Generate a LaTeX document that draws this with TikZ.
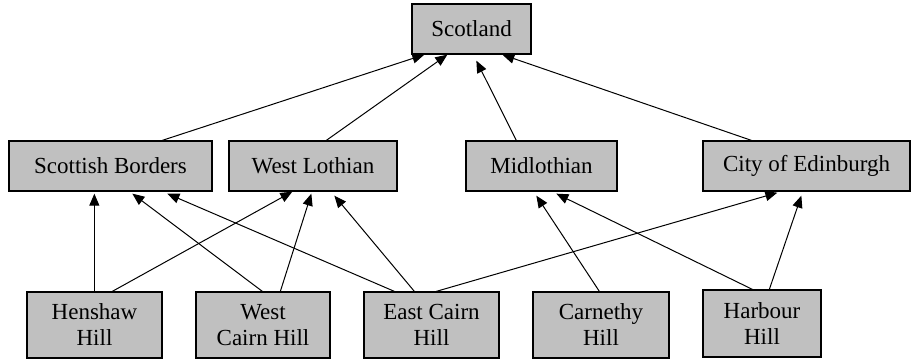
\documentclass[tikz,border=0pt]{standalone}
\usepackage{fontspec}
\setmainfont{Liberation Serif}
\usetikzlibrary{arrows.meta,calc}
\definecolor{boxgray}{HTML}{C0C0C0}
\tikzset{
  region/.style={draw=black, line width=1.3pt, fill=boxgray, inner sep=0pt,
    minimum height=50pt, align=center, font=\fontsize{23}{26}\selectfont},
  hill/.style={region, minimum height=66pt},
  arr/.style={draw=black, line width=1pt, -{Triangle[length=12pt,width=10pt]}},
}
\begin{document}
\begin{tikzpicture}[x=1pt,y=-1pt]
\useasboundingbox (0,0) rectangle (913,360);
% top
\node[region, minimum width=119pt] (sc) at (471.5,29) {Scotland};
% middle
\node[region, minimum width=203pt] (sb) at (110.5,166) {Scottish Borders};
\node[region, minimum width=168pt] (wl) at (313,166) {West Lothian};
\node[region, minimum width=151pt] (ml) at (541.5,166) {Midlothian};
\node[region, minimum width=207pt] (ce) at (806.5,166) {City of Edinburgh};
% bottom
\node[hill, minimum width=135pt] (hh) at (94.5,325) {Henshaw\\Hill};
\node[hill, minimum width=134pt] (wc) at (263,325) {West\\Cairn Hill};
\node[hill, minimum width=135pt] (ec) at (431.5,325) {East Cairn\\Hill};
\node[hill, minimum width=136pt] (ch) at (601,325) {Carnethy\\Hill};
\node[hill, minimum width=118pt, minimum height=67pt] (hb) at (762,323.5) {Harbour\\Hill};
% middle -> top
\draw[arr] ($(sb.north west)+(154,0)$) -- ($(sc.south west)+(13,0)$);
\draw[arr] ($(wl.north west)+(98,0)$) -- ($(sc.south west)+(36,0)$);
\draw[arr] ($(ml.north west)+(51,0)$) -- ($(sc.south west)+(65,6)$);
\draw[arr] ($(ce.north west)+(49,0)$) -- ($(sc.south west)+(91,0)$);
% bottom -> middle
\draw[arr] ($(hh.north west)+(68,0)$) -- ($(sb.south west)+(86,2)$);
\draw[arr] ($(hh.north west)+(86,0)$) -- ($(wl.south west)+(64,0)$);
\draw[arr] ($(wc.north west)+(67,0)$) -- ($(sb.south west)+(124,2)$);
\draw[arr] ($(wc.north west)+(85,0)$) -- ($(wl.south west)+(83,2)$);
\draw[arr] ($(ec.north west)+(31,0)$) -- ($(sb.south west)+(159,2)$);
\draw[arr] ($(ec.north west)+(51,0)$) -- ($(wl.south west)+(106,4)$);
\draw[arr] ($(ec.north west)+(73,0)$) -- ($(ce.south west)+(75,1)$);
\draw[arr] ($(ch.north west)+(67,0)$) -- ($(ml.south west)+(71,4)$);
\draw[arr] ($(hb.north west)+(50,0)$) -- ($(ml.south west)+(91,2)$);
\draw[arr] ($(hb.north west)+(67,0)$) -- ($(ce.south west)+(99,4)$);
\end{tikzpicture}
\end{document}
